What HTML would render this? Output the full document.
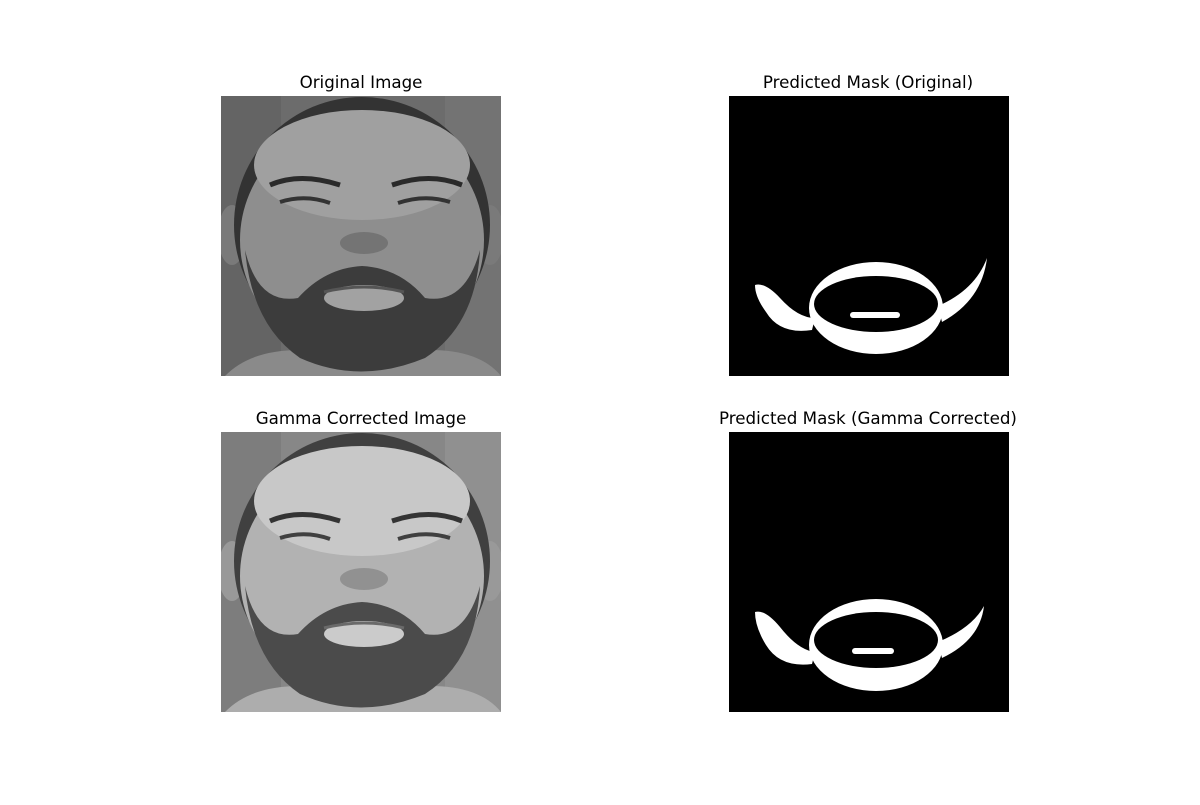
<!DOCTYPE html>
<html><head><meta charset="utf-8"><style>
html,body{margin:0;padding:0;background:#fff;}
svg text{font-family:"DejaVu Sans","Liberation Sans",sans-serif;font-size:16.7px;fill:#000;}
</style></head><body>
<svg width="1200" height="800" viewBox="0 0 1200 800">
<defs>
  <clipPath id="c1"><rect x="221" y="96" width="280" height="280"/></clipPath>
  <clipPath id="c2"><rect x="221" y="432" width="280" height="280"/></clipPath>
  <g id="face">
    <rect x="221" y="96" width="280" height="280" fill="#6c6c6c"/>
    <rect x="221" y="96" width="60" height="280" fill="#646464"/>
    <rect x="445" y="96" width="56" height="280" fill="#737373"/>
    <ellipse cx="232" cy="235" rx="14" ry="30" fill="#7a7a7a"/>
    <ellipse cx="490" cy="235" rx="14" ry="30" fill="#7a7a7a"/>
    <path d="M225,376 Q250,350 300,350 L430,350 Q480,350 501,376 Z" fill="#8a8a8a"/>
    <ellipse cx="362" cy="225" rx="128" ry="128" fill="#333"/>
    <ellipse cx="362" cy="240" rx="122" ry="120" fill="#8e8e8e"/>
    <ellipse cx="362" cy="165" rx="108" ry="55" fill="#a0a0a0"/>
    <path d="M245,250 Q252,325 300,358 Q360,385 425,358 Q476,325 480,250 Q465,305 425,298 Q400,268 362,266 Q325,268 298,298 Q258,305 245,250 Z" fill="#3c3c3c"/>
    <path d="M270,185 Q300,172 340,185" stroke="#2a2a2a" stroke-width="5" fill="none"/>
    <path d="M392,185 Q430,172 462,185" stroke="#2a2a2a" stroke-width="5" fill="none"/>
    <path d="M280,202 Q305,194 330,203" stroke="#333" stroke-width="4" fill="none"/>
    <path d="M398,203 Q425,194 450,202" stroke="#333" stroke-width="4" fill="none"/>
    <ellipse cx="364" cy="243" rx="24" ry="11" fill="#747474"/>
    <ellipse cx="364" cy="298" rx="40" ry="13" fill="#a2a2a2"/>
    <path d="M324,292 Q364,282 404,292" stroke="#555" stroke-width="3" fill="none"/>
  </g>
</defs>

<text x="361" y="88" text-anchor="middle">Original Image</text>
<g clip-path="url(#c1)"><use href="#face"/></g>

<text x="868" y="88" text-anchor="middle">Predicted Mask (Original)</text>
<g>
  <rect x="729" y="96" width="280" height="280" fill="#000"/>
  <ellipse cx="876" cy="308" rx="67" ry="46" fill="#fff"/>
  <ellipse cx="876" cy="304" rx="62" ry="28" fill="#000"/>
  <rect x="850" y="312" width="50" height="6" rx="3" fill="#fff"/>
  <path d="M755,285 Q765,282 780,298 Q798,318 815,318 L812,330 Q780,335 766,312 Q755,297 755,285 Z" fill="#fff"/>
  <path d="M987,258 Q982,300 942,322 L938,306 Q975,290 987,258 Z" fill="#fff"/>
</g>

<text x="361" y="424" text-anchor="middle">Gamma Corrected Image</text>
<g clip-path="url(#c2)">
  <g transform="translate(0,336)" style="filter:brightness(1.25)"><use href="#face"/></g>
</g>

<text x="868" y="424" text-anchor="middle">Predicted Mask (Gamma Corrected)</text>
<g>
  <rect x="729" y="432" width="280" height="280" fill="#000"/>
  <ellipse cx="876" cy="645" rx="67" ry="46" fill="#fff"/>
  <ellipse cx="876" cy="640" rx="62" ry="28" fill="#000"/>
  <rect x="852" y="648" width="42" height="6" rx="3" fill="#fff"/>
  <path d="M755,612 Q765,609 780,627 Q798,650 815,652 L812,664 Q780,668 766,645 Q755,627 755,612 Z" fill="#fff"/>
  <path d="M984,606 Q980,640 942,658 L938,642 Q972,628 984,606 Z" fill="#fff"/>
</g>
</svg>
</body></html>
